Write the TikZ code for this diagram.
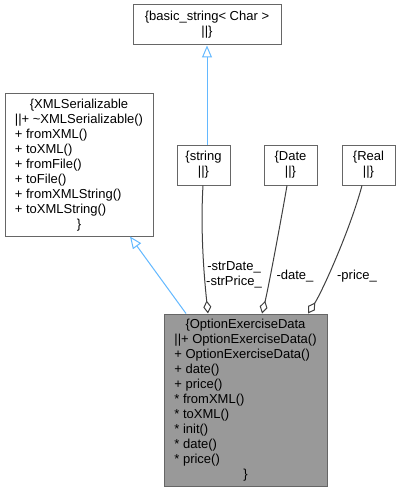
\documentclass[tikz,border=0pt]{standalone}
\usepackage{fontspec}
\setmainfont{Liberation Sans}
\usetikzlibrary{arrows.meta}
\definecolor{bordergray}{HTML}{666666}
\definecolor{mainfill}{HTML}{999999}
\definecolor{aggcol}{HTML}{404040}
\definecolor{inhcol}{HTML}{63B8FF}
\newcommand{\ctrline}[1]{\multicolumn{1}{@{}c@{}}{#1}}
\begin{document}
\begin{tikzpicture}[x=1pt,y=-1pt,
  font=\fontsize{13}{15}\selectfont,
  cls/.style={draw=bordergray, line width=1pt, fill=white, inner sep=0pt, align=center},
  maincls/.style={cls, fill=mainfill},
  agg/.style={draw=aggcol, line width=1pt, {Diamond[open,length=13pt,width=8pt]}-},
  inh/.style={draw=inhcol, line width=1pt, -{Triangle[open,length=12pt,width=10pt]}},
  lbl/.style={inner sep=0pt, align=center}]
\useasboundingbox (0,0) rectangle (400,492);

\node[cls, minimum width=148pt, minimum height=40pt] (bs) at (207,25) {\{basic\_string< Char >\\||\}};
\node[cls, minimum width=148pt, minimum height=142pt] (xml) at (79,165) {%
\begin{tabular}{@{}l@{}}
\ctrline{\{XMLSerializable}\\
||+ \textasciitilde XMLSerializable()\\
+ fromXML()\\
+ toXML()\\
+ fromFile()\\
+ toFile()\\
+ fromXMLString()\\
+ toXMLString()\\
\ctrline{\}}
\end{tabular}};
\node[cls, minimum width=53pt, minimum height=40pt] (str) at (203.5,165) {\{string\\||\}};
\node[cls, minimum width=53pt, minimum height=40pt] (date) at (290.5,165) {\{Date\\||\}};
\node[cls, minimum width=53pt, minimum height=40pt] (real) at (368.5,165) {\{Real\\||\}};
\node[maincls, minimum width=163pt, minimum height=172pt] (opt) at (245.5,400) {%
\begin{tabular}{@{}l@{}}
\ctrline{\{OptionExerciseData}\\
||+ OptionExerciseData()\\
+ OptionExerciseData()\\
+ date()\\
+ price()\\
{*} fromXML()\\
{*} toXML()\\
{*} init()\\
{*} date()\\
{*} price()\\
\ctrline{\}}
\end{tabular}};

% inheritance
\draw[inh] ([xshift=3.5pt]str.north) -- (bs.south);
\draw[inh] ([xshift=-59.5pt]opt.north) -- ([xshift=51pt]xml.south);

% aggregation
\draw[agg] ([xshift=-37.5pt]opt.north) .. controls (205,285) and (200,235) .. ([xshift=-0.5pt]str.south);
\draw[agg] ([xshift=16.5pt]opt.north) .. controls (268,290) and (282,215) .. ([xshift=-3.5pt]date.south);
\draw[agg] ([xshift=62.5pt]opt.north) .. controls (322,292) and (350,230) .. ([xshift=-6.5pt]real.south);

% labels
\node[lbl] (lstr) at (234,275) {-strDate\_\\-strPrice\_};
\node[lbl] (ldate) at (295,276) {-date\_};
\node[lbl] (lprice) at (357,276) {-price\_};
\end{tikzpicture}
\end{document}
